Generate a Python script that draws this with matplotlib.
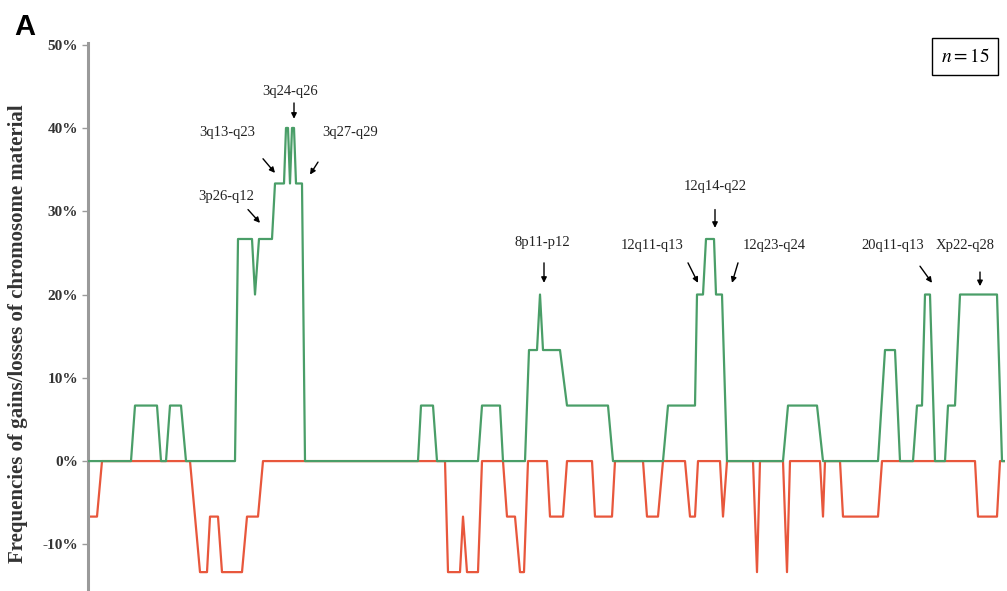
import numpy as np
import matplotlib.pyplot as plt

plt.rcParams['mathtext.fontset'] = 'stix'

# 病例数 n=15，每个值是样本数（0..6），百分比 = 数 / 15
N_CASES = 15

# 增益（绿色）折线的顶点：基因组位置 / 样本数
gain_pos = [0, 43, 47, 69, 73, 78, 82, 93, 98, 147, 150, 164, 167, 171, 184, 187,
            196, 198, 200, 202, 204, 206, 208, 214, 217, 330, 333, 345, 349,
            390, 394, 412, 415, 437, 441, 449, 452, 455, 472, 479, 520, 525,
            575, 580, 607, 609, 615, 618, 626, 628, 634, 639, 695, 700, 729, 735,
            790, 797, 807, 812, 825, 829, 834, 837, 842, 847, 857, 860, 867, 872,
            909, 914, 917]
gain_n = [0, 0, 1, 1, 0, 0, 1, 1, 0, 0, 4, 4, 3, 4, 4, 5,
          5, 6, 6, 5, 6, 6, 5, 5, 0, 0, 1, 1, 0,
          0, 1, 1, 0, 0, 2, 2, 3, 2, 2, 1, 1, 0,
          0, 1, 1, 3, 3, 4, 4, 3, 3, 0, 0, 1, 1, 0,
          0, 2, 2, 0, 0, 1, 1, 3, 3, 0, 0, 1, 1, 3,
          3, 0, 0]

# 缺失（红色）折线的顶点
loss_pos = [0, 9, 14, 102, 107, 112, 119, 122, 130, 134, 154, 159, 170, 175,
            357, 360, 372, 375, 379, 390, 394, 415, 419, 427, 432, 436, 440,
            459, 462, 475, 479, 504, 507, 524, 527, 555, 559, 570, 575,
            597, 602, 607, 610, 632, 635, 639, 665, 669, 672, 695, 699, 702,
            732, 735, 737, 752, 755, 790, 794, 887, 890, 909, 912, 917]
loss_n = [-1, -1, 0, 0, -1, -2, -2, -1, -1, -2, -2, -1, -1, 0,
          0, -2, -2, -1, -2, -2, 0, 0, -1, -1, -2, -2, 0,
          0, -1, -1, 0, 0, -1, -1, 0, 0, -1, -1, 0,
          0, -1, -1, 0, 0, -1, 0, 0, -2, 0, 0, -2, 0,
          0, -1, 0, 0, -1, -1, 0, 0, -1, -1, 0, 0]

yticks = [-10, 0, 10, 20, 30, 40, 50]

# 标注：文字、文字位置、箭头起点、箭头终点（位置, %）
labels = ['3q24-q26', '3q13-q23', '3q27-q29', '3p26-q12', '8p11-p12',
          '12q14-q22', '12q11-q13', '12q23-q24', '20q11-q13', 'Xp22-q28']
label_xy = [(202, 44.4), (139, 39.4), (262, 39.4), (138, 31.8), (454, 26.2),
            (627, 33.0), (564, 25.9), (686, 25.9), (805, 25.9), (877, 25.9)]
arrow_from = [(206, 43.0), (175, 36.3), (230, 35.9), (160, 30.2), (456, 23.8),
              (627, 30.2), (600, 23.8), (650, 23.8), (832, 23.4), (892, 22.7)]
arrow_to = [(206, 41.1), (187, 34.6), (222, 34.4), (172, 28.6), (456, 21.4),
            (627, 28.0), (610, 21.4), (644, 21.4), (844, 21.4), (892, 21.0)]

gain_pct = np.array(gain_n) / N_CASES * 100
loss_pct = np.array(loss_n) / N_CASES * 100

serif = ['Liberation Serif', 'DejaVu Serif']

fig = plt.figure(figsize=(10.07, 5.91), dpi=100)
ax = fig.add_axes([88 / 1007, 0, 917 / 1007, 548 / 591])

ax.plot(loss_pos, loss_pct, color='#e8573c', lw=1.6, zorder=2)
ax.plot(gain_pos, gain_pct, color='#4a9e68', lw=1.6, zorder=3)

ax.set_xlim(0, 917)
ax.set_ylim(-15.6, 50.2)

for s in ['top', 'right', 'bottom']:
    ax.spines[s].set_visible(False)
ax.spines['left'].set_color('#9a9a9a')
ax.spines['left'].set_linewidth(2.2)
ax.set_xticks([])
ax.set_yticks(yticks)
ax.set_yticklabels([f'{t}%' for t in yticks], family=serif, fontweight='bold',
                   fontsize=11, color='#333333')
ax.tick_params(axis='y', direction='out', length=4, width=1, color='#9a9a9a', pad=3)

fig.text(0.018, 0.436, 'Frequencies of gains/losses of chromosome material',
         rotation=90, ha='center', va='center', family=serif,
         fontweight='bold', fontsize=15, color='#333333')

fig.text(0.014, 0.978, 'A', ha='left', va='top', family=['Liberation Sans', 'DejaVu Sans'],
         fontweight='bold', fontsize=21)

for lab, txy, a0, a1 in zip(labels, label_xy, arrow_from, arrow_to):
    ax.text(txy[0], txy[1], lab, ha='center', va='center', family=serif,
            fontsize=10.5, color='#222222')
    ax.annotate('', xy=a1, xytext=a0,
                arrowprops=dict(arrowstyle='-|>', color='black', lw=1.0,
                                mutation_scale=8, shrinkA=0, shrinkB=0))

ax.text(877, 48.6, r'$n = 15$', ha='center', va='center', fontsize=14,
        bbox=dict(boxstyle='square,pad=0.45', fc='white', ec='black', lw=1.0))

fig.savefig('out.png', dpi=100)
